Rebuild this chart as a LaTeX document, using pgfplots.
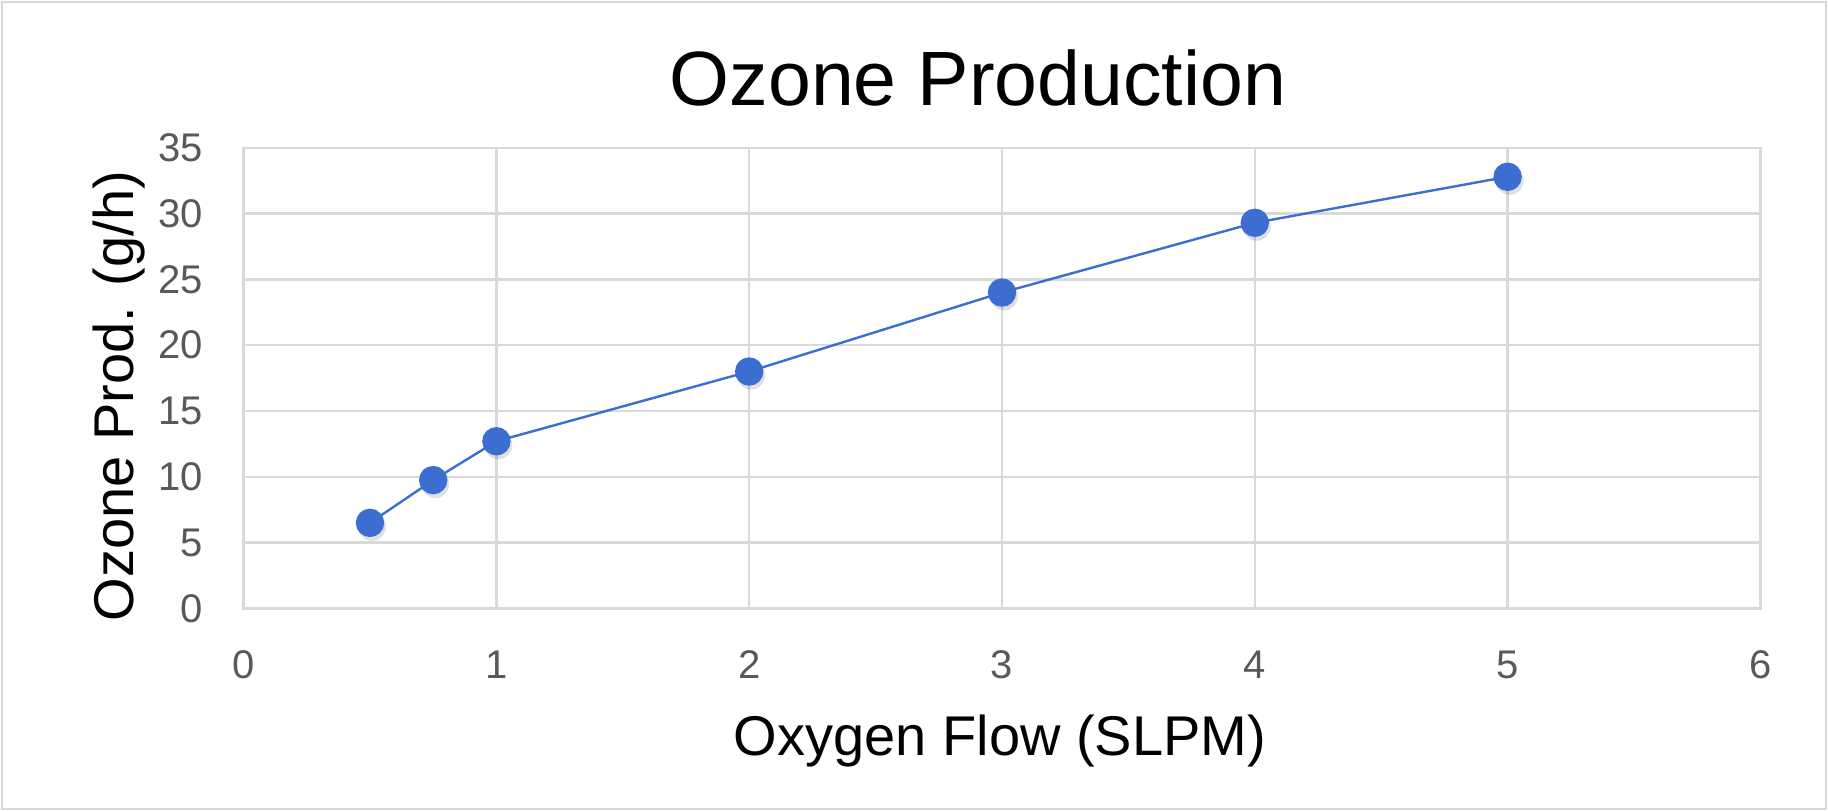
\documentclass[border=0pt]{standalone}
\usepackage{fontspec}
\setmainfont{Liberation Sans}
\usepackage{pgfplots}
\pgfplotsset{compat=1.18}

\definecolor{ozblue}{RGB}{60,110,210}
\definecolor{tickgray}{RGB}{89,89,89}
\definecolor{gridgray}{RGB}{217,217,217}
\definecolor{framegray}{RGB}{215,215,215}

\begin{document}
\begin{tikzpicture}
\useasboundingbox (0,0) rectangle (914pt,405.5pt);
\draw[framegray, line width=1.3pt] (1pt,1pt) rectangle (913pt,404.5pt);
\begin{axis}[
    scale only axis,
    width=758.4pt, height=230.3pt,
    at={(121.8pt,101.3pt)}, anchor=south west,
    xmin=0, xmax=6, ymin=0, ymax=35,
    xtick={0,1,...,6}, ytick={0,5,...,35},
    grid=major,
    grid style={gridgray, line width=1.2pt},
    axis line style={gridgray, line width=1.2pt},
    major tick length=0pt,
    tick label style={font=\fontsize{20}{24}\selectfont, text=tickgray, inner sep=0pt},
    xticklabel style={yshift=-21pt},
    yticklabel style={xshift=-20pt},
    /pgf/number format/assume math mode=true,
]
% soft shadow under the markers
\addplot[only marks, mark=*, mark size=7pt, draw=none,
    mark options={fill=black, fill opacity=0.12, draw opacity=0, xshift=1pt, yshift=-2pt}]
    coordinates {
    (0.5,6.5) (0.75,9.75) (1,12.7) (2,18) (3,24) (4,29.3) (5,32.8)
};
\addplot[ozblue, line width=1.2pt, mark=*, mark size=6.5pt,
    mark options={fill=ozblue, draw=ozblue}] coordinates {
    (0.5,6.5) (0.75,9.75) (1,12.7) (2,18) (3,24) (4,29.3) (5,32.8)
};
\end{axis}
\node[anchor=base, font=\fontsize{38.5}{44}\selectfont] at (489pt,352.5pt) {Ozone Production};
\node[anchor=base, font=\fontsize{28}{32}\selectfont] at (500pt,28pt) {Oxygen Flow (SLPM)};
\node[anchor=base, rotate=90, font=\fontsize{28}{32}\selectfont] at (66.5pt,207.5pt) {Ozone Prod. (g/h)};
\end{tikzpicture}
\end{document}
